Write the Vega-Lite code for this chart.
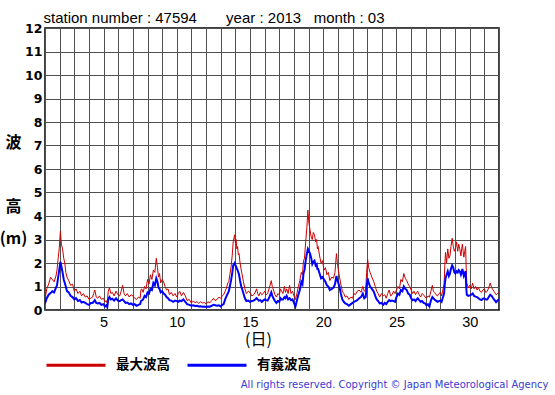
{
  "$schema": "https://vega.github.io/schema/vega-lite/v6.json",
  "width": 454,
  "height": 282,
  "autosize": "none",
  "padding": {"left": 45, "top": 28, "right": 56, "bottom": 85},
  "background": "white",
  "config": {"view": {"stroke": "black", "strokeWidth": 1.5}},
  "data": {"values": [
    {"d":1.0,"mx":0.45,"sg":0.28},{"d":1.12,"mx":0.9,"sg":0.5},{"d":1.25,"mx":1.1,"sg":0.65},{"d":1.38,"mx":1.4,"sg":0.72},
    {"d":1.5,"mx":1.3,"sg":0.8},{"d":1.62,"mx":1.2,"sg":0.75},{"d":1.75,"mx":1.45,"sg":0.95},{"d":1.82,"mx":1.7,"sg":1.05},
    {"d":1.9,"mx":2.2,"sg":1.4},{"d":1.97,"mx":2.6,"sg":1.7},{"d":2.05,"mx":3.35,"sg":2.05},{"d":2.12,"mx":2.8,"sg":1.85},
    {"d":2.2,"mx":2.6,"sg":1.6},{"d":2.28,"mx":2.2,"sg":1.3},{"d":2.35,"mx":2.0,"sg":1.15},{"d":2.42,"mx":1.6,"sg":1.0},
    {"d":2.5,"mx":1.4,"sg":0.8},{"d":2.62,"mx":1.25,"sg":0.75},{"d":2.75,"mx":1.05,"sg":0.6},{"d":2.88,"mx":1.1,"sg":0.55},
    {"d":3.0,"mx":0.8,"sg":0.45},{"d":3.12,"mx":0.9,"sg":0.5},{"d":3.25,"mx":0.7,"sg":0.38},{"d":3.38,"mx":0.8,"sg":0.42},
    {"d":3.5,"mx":0.6,"sg":0.32},{"d":3.62,"mx":0.7,"sg":0.35},{"d":3.75,"mx":0.55,"sg":0.3},{"d":3.88,"mx":0.6,"sg":0.25},
    {"d":4.0,"mx":0.45,"sg":0.22},{"d":4.12,"mx":0.5,"sg":0.3},{"d":4.25,"mx":0.55,"sg":0.3},{"d":4.32,"mx":0.7,"sg":0.35},
    {"d":4.4,"mx":0.85,"sg":0.42},{"d":4.5,"mx":0.55,"sg":0.3},{"d":4.6,"mx":0.5,"sg":0.28},{"d":4.72,"mx":0.6,"sg":0.3},
    {"d":4.85,"mx":0.45,"sg":0.22},{"d":4.98,"mx":0.5,"sg":0.25},{"d":5.1,"mx":0.35,"sg":0.15},{"d":5.18,"mx":0.4,"sg":0.2},
    {"d":5.25,"mx":0.3,"sg":0.12},{"d":5.32,"mx":0.8,"sg":0.45},{"d":5.4,"mx":0.95,"sg":0.55},{"d":5.5,"mx":0.7,"sg":0.45},
    {"d":5.6,"mx":0.75,"sg":0.48},{"d":5.72,"mx":0.6,"sg":0.4},{"d":5.85,"mx":0.8,"sg":0.5},{"d":5.98,"mx":0.65,"sg":0.4},
    {"d":6.1,"mx":0.6,"sg":0.38},{"d":6.2,"mx":0.8,"sg":0.42},{"d":6.3,"mx":1.05,"sg":0.45},{"d":6.4,"mx":0.7,"sg":0.38},
    {"d":6.5,"mx":0.6,"sg":0.3},{"d":6.62,"mx":0.7,"sg":0.32},{"d":6.75,"mx":0.55,"sg":0.25},{"d":6.88,"mx":0.65,"sg":0.28},
    {"d":7.0,"mx":0.6,"sg":0.22},{"d":7.12,"mx":0.5,"sg":0.25},{"d":7.25,"mx":0.45,"sg":0.18},{"d":7.38,"mx":0.55,"sg":0.22},
    {"d":7.5,"mx":0.5,"sg":0.25},{"d":7.55,"mx":0.85,"sg":0.38},{"d":7.6,"mx":0.9,"sg":0.4},{"d":7.7,"mx":0.75,"sg":0.45},
    {"d":7.8,"mx":1.0,"sg":0.6},{"d":7.9,"mx":0.9,"sg":0.55},{"d":8.0,"mx":1.3,"sg":0.75},{"d":8.1,"mx":1.1,"sg":0.7},
    {"d":8.2,"mx":1.5,"sg":0.9},{"d":8.3,"mx":1.3,"sg":0.85},{"d":8.4,"mx":1.7,"sg":1.15},{"d":8.5,"mx":1.6,"sg":1.05},
    {"d":8.6,"mx":2.2,"sg":1.35},{"d":8.68,"mx":1.8,"sg":1.2},{"d":8.75,"mx":1.4,"sg":0.95},{"d":8.82,"mx":1.55,"sg":0.9},
    {"d":8.9,"mx":1.15,"sg":0.75},{"d":9.0,"mx":1.3,"sg":0.8},{"d":9.1,"mx":1.2,"sg":0.7},{"d":9.2,"mx":1.0,"sg":0.65},
    {"d":9.3,"mx":0.85,"sg":0.55},{"d":9.4,"mx":0.9,"sg":0.5},{"d":9.5,"mx":0.65,"sg":0.42},{"d":9.62,"mx":0.75,"sg":0.4},
    {"d":9.75,"mx":0.6,"sg":0.35},{"d":9.88,"mx":0.7,"sg":0.4},{"d":10.0,"mx":0.55,"sg":0.38},{"d":10.1,"mx":0.7,"sg":0.35},
    {"d":10.2,"mx":0.8,"sg":0.4},{"d":10.32,"mx":0.6,"sg":0.38},{"d":10.45,"mx":0.75,"sg":0.45},{"d":10.58,"mx":0.6,"sg":0.35},
    {"d":10.7,"mx":0.4,"sg":0.25},{"d":10.85,"mx":0.45,"sg":0.22},{"d":11.0,"mx":0.3,"sg":0.18},{"d":11.12,"mx":0.38,"sg":0.2},
    {"d":11.25,"mx":0.32,"sg":0.17},{"d":11.38,"mx":0.35,"sg":0.18},{"d":11.5,"mx":0.28,"sg":0.15},{"d":11.62,"mx":0.35,"sg":0.16},
    {"d":11.75,"mx":0.3,"sg":0.14},{"d":11.88,"mx":0.32,"sg":0.15},{"d":12.0,"mx":0.25,"sg":0.13},{"d":12.12,"mx":0.35,"sg":0.15},
    {"d":12.25,"mx":0.3,"sg":0.14},{"d":12.38,"mx":0.4,"sg":0.18},{"d":12.5,"mx":0.5,"sg":0.22},{"d":12.62,"mx":0.4,"sg":0.2},
    {"d":12.75,"mx":0.45,"sg":0.18},{"d":12.88,"mx":0.55,"sg":0.2},{"d":13.0,"mx":0.5,"sg":0.15},{"d":13.1,"mx":0.6,"sg":0.22},
    {"d":13.2,"mx":0.65,"sg":0.25},{"d":13.3,"mx":0.8,"sg":0.45},{"d":13.4,"mx":0.95,"sg":0.6},{"d":13.48,"mx":1.15,"sg":0.7},
    {"d":13.55,"mx":1.2,"sg":0.8},{"d":13.62,"mx":1.5,"sg":1.0},{"d":13.7,"mx":1.8,"sg":1.25},{"d":13.78,"mx":2.3,"sg":1.55},
    {"d":13.85,"mx":2.9,"sg":1.9},{"d":13.95,"mx":3.2,"sg":2.0},{"d":14.0,"mx":2.85,"sg":1.9},{"d":14.05,"mx":3.0,"sg":1.85},
    {"d":14.1,"mx":2.6,"sg":1.75},{"d":14.15,"mx":2.7,"sg":1.7},{"d":14.2,"mx":2.35,"sg":1.6},{"d":14.25,"mx":2.4,"sg":1.5},
    {"d":14.32,"mx":2.0,"sg":1.25},{"d":14.4,"mx":1.7,"sg":1.0},{"d":14.48,"mx":1.45,"sg":0.85},{"d":14.55,"mx":1.2,"sg":0.7},
    {"d":14.65,"mx":0.9,"sg":0.5},{"d":14.75,"mx":0.7,"sg":0.38},{"d":14.88,"mx":0.8,"sg":0.4},{"d":15.0,"mx":0.75,"sg":0.35},
    {"d":15.12,"mx":0.6,"sg":0.38},{"d":15.25,"mx":0.65,"sg":0.4},{"d":15.35,"mx":0.75,"sg":0.45},{"d":15.45,"mx":0.9,"sg":0.5},
    {"d":15.52,"mx":0.7,"sg":0.45},{"d":15.6,"mx":0.6,"sg":0.4},{"d":15.7,"mx":0.75,"sg":0.42},{"d":15.8,"mx":0.65,"sg":0.35},
    {"d":15.9,"mx":0.7,"sg":0.4},{"d":16.0,"mx":0.8,"sg":0.45},{"d":16.1,"mx":0.65,"sg":0.42},{"d":16.2,"mx":0.7,"sg":0.4},
    {"d":16.32,"mx":0.95,"sg":0.55},{"d":16.45,"mx":1.25,"sg":0.75},{"d":16.52,"mx":1.0,"sg":0.6},{"d":16.6,"mx":0.85,"sg":0.5},
    {"d":16.7,"mx":0.65,"sg":0.38},{"d":16.8,"mx":0.55,"sg":0.3},{"d":16.9,"mx":0.7,"sg":0.38},{"d":17.0,"mx":0.65,"sg":0.35},
    {"d":17.08,"mx":0.9,"sg":0.5},{"d":17.15,"mx":0.8,"sg":0.45},{"d":17.25,"mx":0.7,"sg":0.45},{"d":17.35,"mx":1.0,"sg":0.55},
    {"d":17.42,"mx":0.75,"sg":0.5},{"d":17.5,"mx":0.9,"sg":0.6},{"d":17.6,"mx":0.7,"sg":0.45},{"d":17.7,"mx":1.05,"sg":0.5},
    {"d":17.8,"mx":0.7,"sg":0.42},{"d":17.9,"mx":0.8,"sg":0.45},{"d":18.0,"mx":0.6,"sg":0.3},{"d":18.1,"mx":0.45,"sg":0.15},
    {"d":18.2,"mx":0.7,"sg":0.4},{"d":18.3,"mx":1.0,"sg":0.65},{"d":18.4,"mx":1.25,"sg":0.85},{"d":18.5,"mx":1.6,"sg":1.2},
    {"d":18.58,"mx":1.5,"sg":1.1},{"d":18.65,"mx":2.1,"sg":1.55},{"d":18.72,"mx":2.2,"sg":1.7},{"d":18.8,"mx":2.9,"sg":2.1},
    {"d":18.88,"mx":3.5,"sg":2.4},{"d":18.95,"mx":4.25,"sg":2.6},{"d":19.02,"mx":3.7,"sg":2.5},{"d":19.1,"mx":3.4,"sg":2.4},
    {"d":19.18,"mx":3.1,"sg":2.2},{"d":19.25,"mx":3.0,"sg":1.95},{"d":19.32,"mx":3.3,"sg":2.05},{"d":19.4,"mx":3.2,"sg":2.1},
    {"d":19.48,"mx":2.9,"sg":1.9},{"d":19.55,"mx":3.0,"sg":1.95},{"d":19.6,"mx":2.6,"sg":1.75},{"d":19.65,"mx":2.7,"sg":1.75},
    {"d":19.75,"mx":2.3,"sg":1.55},{"d":19.85,"mx":2.0,"sg":1.35},{"d":19.95,"mx":2.1,"sg":1.4},{"d":20.05,"mx":1.7,"sg":1.3},
    {"d":20.15,"mx":1.8,"sg":1.2},{"d":20.25,"mx":1.5,"sg":1.05},{"d":20.35,"mx":1.6,"sg":1.0},{"d":20.45,"mx":1.25,"sg":0.85},
    {"d":20.58,"mx":1.4,"sg":0.9},{"d":20.7,"mx":1.35,"sg":0.95},{"d":20.8,"mx":1.6,"sg":1.1},{"d":20.9,"mx":2.4,"sg":1.45},
    {"d":20.98,"mx":1.9,"sg":1.25},{"d":21.1,"mx":1.45,"sg":1.0},{"d":21.2,"mx":1.1,"sg":0.7},{"d":21.3,"mx":0.8,"sg":0.45},
    {"d":21.4,"mx":0.7,"sg":0.35},{"d":21.5,"mx":0.55,"sg":0.28},{"d":21.62,"mx":0.6,"sg":0.25},{"d":21.75,"mx":0.45,"sg":0.18},
    {"d":21.88,"mx":0.55,"sg":0.25},{"d":22.0,"mx":0.5,"sg":0.3},{"d":22.1,"mx":0.7,"sg":0.35},{"d":22.2,"mx":0.65,"sg":0.38},
    {"d":22.32,"mx":0.8,"sg":0.42},{"d":22.45,"mx":0.85,"sg":0.5},{"d":22.58,"mx":0.75,"sg":0.55},{"d":22.7,"mx":1.0,"sg":0.7},
    {"d":22.8,"mx":0.8,"sg":0.5},{"d":22.9,"mx":0.85,"sg":0.55},{"d":22.96,"mx":1.6,"sg":1.0},{"d":23.03,"mx":2.15,"sg":1.35},
    {"d":23.1,"mx":1.8,"sg":1.15},{"d":23.2,"mx":1.6,"sg":1.0},{"d":23.32,"mx":1.4,"sg":0.9},{"d":23.45,"mx":1.2,"sg":0.78},
    {"d":23.55,"mx":1.0,"sg":0.6},{"d":23.65,"mx":0.8,"sg":0.45},{"d":23.75,"mx":0.7,"sg":0.38},{"d":23.85,"mx":0.55,"sg":0.28},
    {"d":23.98,"mx":0.7,"sg":0.3},{"d":24.1,"mx":0.6,"sg":0.22},{"d":24.2,"mx":0.65,"sg":0.3},{"d":24.3,"mx":0.5,"sg":0.25},
    {"d":24.4,"mx":0.7,"sg":0.35},{"d":24.5,"mx":0.85,"sg":0.42},{"d":24.6,"mx":0.6,"sg":0.38},{"d":24.7,"mx":0.65,"sg":0.4},
    {"d":24.8,"mx":0.8,"sg":0.38},{"d":24.9,"mx":0.7,"sg":0.35},{"d":25.0,"mx":0.85,"sg":0.55},{"d":25.1,"mx":1.0,"sg":0.7},
    {"d":25.2,"mx":0.9,"sg":0.65},{"d":25.3,"mx":1.3,"sg":0.85},{"d":25.4,"mx":1.2,"sg":0.8},{"d":25.5,"mx":1.55,"sg":1.0},
    {"d":25.6,"mx":1.35,"sg":0.9},{"d":25.7,"mx":1.25,"sg":0.85},{"d":25.8,"mx":1.1,"sg":0.7},{"d":25.9,"mx":1.0,"sg":0.65},
    {"d":26.0,"mx":0.85,"sg":0.5},{"d":26.1,"mx":0.7,"sg":0.42},{"d":26.2,"mx":0.8,"sg":0.45},{"d":26.3,"mx":0.65,"sg":0.38},
    {"d":26.38,"mx":0.75,"sg":0.45},{"d":26.45,"mx":0.8,"sg":0.5},{"d":26.55,"mx":0.65,"sg":0.42},{"d":26.65,"mx":0.55,"sg":0.35},
    {"d":26.75,"mx":0.7,"sg":0.38},{"d":26.85,"mx":0.65,"sg":0.3},{"d":26.95,"mx":0.55,"sg":0.28},{"d":27.05,"mx":0.5,"sg":0.2},
    {"d":27.15,"mx":0.6,"sg":0.25},{"d":27.25,"mx":0.55,"sg":0.15},{"d":27.35,"mx":0.8,"sg":0.4},{"d":27.45,"mx":1.05,"sg":0.55},
    {"d":27.52,"mx":0.8,"sg":0.5},{"d":27.6,"mx":0.75,"sg":0.45},{"d":27.7,"mx":0.65,"sg":0.4},{"d":27.8,"mx":0.6,"sg":0.35},
    {"d":27.9,"mx":0.7,"sg":0.38},{"d":28.0,"mx":0.75,"sg":0.4},{"d":28.08,"mx":0.6,"sg":0.35},{"d":28.15,"mx":0.8,"sg":0.5},
    {"d":28.25,"mx":1.1,"sg":0.7},{"d":28.3,"mx":1.9,"sg":1.1},{"d":28.35,"mx":2.45,"sg":1.35},{"d":28.42,"mx":2.0,"sg":1.5},
    {"d":28.5,"mx":2.6,"sg":1.65},{"d":28.58,"mx":2.2,"sg":1.45},{"d":28.65,"mx":2.3,"sg":1.55},{"d":28.72,"mx":2.7,"sg":1.75},
    {"d":28.8,"mx":3.05,"sg":1.9},{"d":28.88,"mx":2.7,"sg":1.8},{"d":28.95,"mx":2.5,"sg":1.6},{"d":29.02,"mx":2.6,"sg":1.55},
    {"d":29.1,"mx":2.9,"sg":1.65},{"d":29.18,"mx":2.5,"sg":1.6},{"d":29.25,"mx":2.8,"sg":1.7},{"d":29.32,"mx":2.6,"sg":1.65},
    {"d":29.4,"mx":2.3,"sg":1.5},{"d":29.45,"mx":2.6,"sg":1.6},{"d":29.5,"mx":2.8,"sg":1.75},{"d":29.55,"mx":2.5,"sg":1.6},
    {"d":29.6,"mx":2.25,"sg":1.45},{"d":29.66,"mx":2.5,"sg":1.55},{"d":29.72,"mx":2.7,"sg":1.65},{"d":29.76,"mx":1.8,"sg":1.0},
    {"d":29.8,"mx":1.15,"sg":0.65},{"d":29.9,"mx":0.95,"sg":0.6},{"d":30.0,"mx":1.05,"sg":0.62},{"d":30.1,"mx":0.9,"sg":0.65},
    {"d":30.2,"mx":1.15,"sg":0.7},{"d":30.3,"mx":0.9,"sg":0.6},{"d":30.4,"mx":1.0,"sg":0.57},{"d":30.5,"mx":0.85,"sg":0.55},
    {"d":30.6,"mx":0.95,"sg":0.5},{"d":30.7,"mx":0.8,"sg":0.45},{"d":30.8,"mx":0.75,"sg":0.42},{"d":30.9,"mx":0.85,"sg":0.48},
    {"d":31.0,"mx":0.9,"sg":0.5},{"d":31.1,"mx":0.75,"sg":0.45},{"d":31.2,"mx":0.8,"sg":0.45},{"d":31.3,"mx":0.95,"sg":0.55},
    {"d":31.4,"mx":1.15,"sg":0.65},{"d":31.5,"mx":0.95,"sg":0.6},{"d":31.6,"mx":0.85,"sg":0.5},{"d":31.7,"mx":0.75,"sg":0.42},
    {"d":31.8,"mx":0.65,"sg":0.33},{"d":31.9,"mx":0.7,"sg":0.4},{"d":32.0,"mx":0.75,"sg":0.45}
  ]},
  "layer": [
    {
      "mark": {"type": "line", "strokeWidth": 1, "clip": true},
      "encoding": {
        "x": {"field": "d", "type": "quantitative",
          "scale": {"domain": [1, 32], "nice": false, "zero": false},
          "axis": {"orient": "bottom", "values": [1,2,3,4,5,6,7,8,9,10,11,12,13,14,15,16,17,18,19,20,21,22,23,24,25,26,27,28,29,30,31,32],
            "grid": true, "gridColor": "#505050", "gridWidth": 1, "gridOpacity": 1,
            "ticks": false, "domain": false,
            "labelExpr": "datum.value % 5 === 0 ? datum.label : ''",
            "labelFont": "Liberation Sans", "labelFontSize": 14.5, "labelColor": "black", "labelPadding": 5,
            "labelFlush": false, "labelOverlap": false,
            "title": "(日)", "titleFont": "Noto Sans CJK JP", "titleFontSize": 16, "titleFontWeight": "normal",
            "titleColor": "black", "titleX": 213, "titleY": 29, "titleBaseline": "middle", "titleAlign": "center"}},
        "y": {"field": "mx", "type": "quantitative",
          "scale": {"domain": [0, 12], "nice": false, "zero": true},
          "axis": {"orient": "left", "values": [0,1,2,3,4,5,6,7,8,9,10,11,12],
            "grid": true, "gridColor": "#505050", "gridWidth": 1, "gridOpacity": 1,
            "ticks": false, "domain": false,
            "labelFont": "DejaVu Sans", "labelFontWeight": "bold", "labelFontSize": 12.5, "labelColor": "black",
            "labelPadding": 3, "labelFlush": false, "labelOverlap": false,
            "title": ["波", "\u200b", "高", "(m)"], "titleAngle": 0, "titleX": -32, "titleY": 106,
            "titleAlign": "center", "titleBaseline": "top", "titleLineHeight": 32,
            "titleFont": "Noto Sans CJK JP", "titleFontSize": 16, "titleFontWeight": "bold", "titleColor": "black"}},
        "color": {"datum": "最大波高", "type": "nominal",
          "scale": {"domain": ["最大波高", "有義波高"], "range": ["#cc0000", "#0000ff"]},
          "legend": {"orient": "none", "legendX": 0, "legendY": 306, "direction": "horizontal", "columns": 2,
            "symbolType": "stroke", "symbolSize": 3481, "symbolStrokeWidth": 3,
            "labelFont": "Noto Sans CJK JP", "labelFontSize": 13.5, "labelFontWeight": "bold", "labelColor": "black",
            "labelOffset": 9, "columnPadding": 11, "title": null, "padding": 0}}
      }
    },
    {
      "mark": {"type": "line", "strokeWidth": 2, "clip": true},
      "encoding": {
        "x": {"field": "d", "type": "quantitative",
          "axis": {"orient": "top", "labels": false, "ticks": false, "domain": false, "grid": false,
            "title": "station number : 47594\u00a0\u00a0\u00a0\u00a0\u00a0\u00a0\u00a0year : 2013\u00a0\u00a0\u00a0month : 03",
            "titleFont": "Liberation Sans", "titleFontSize": 15, "titleFontWeight": "normal", "titleColor": "black",
            "titleX": -2, "titleY": -5.5, "titleAlign": "left", "titleBaseline": "alphabetic"}},
        "y": {"field": "sg", "type": "quantitative",
          "axis": {"orient": "right", "labels": false, "ticks": false, "domain": false, "grid": false,
            "title": "All rights reserved. Copyright © Japan Meteorological Agency",
            "titleAngle": 0, "titleX": 49, "titleY": 359, "titleAlign": "right", "titleBaseline": "alphabetic",
            "titleFont": "DejaVu Sans", "titleFontSize": 10, "titleFontWeight": "normal", "titleColor": "#3a3ad0"}},
        "color": {"datum": "有義波高", "type": "nominal"}
      }
    }
  ],
  "resolve": {"axis": {"x": "independent", "y": "independent"}}
}
